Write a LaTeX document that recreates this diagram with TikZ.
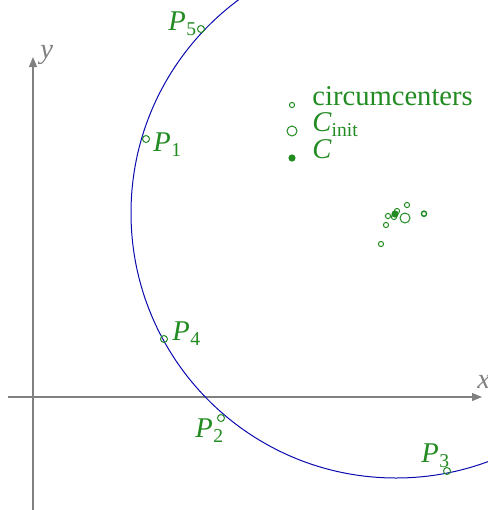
\documentclass[tikz,border=0pt]{standalone}
\usepackage{fontspec}
\setmainfont{Liberation Serif}
\usetikzlibrary{arrows.meta}
\definecolor{grn}{RGB}{34,139,34}
\definecolor{blu}{RGB}{10,10,175}
\definecolor{axg}{RGB}{128,128,128}
\newcommand\subtx[1]{\raisebox{-0.42ex}{\fontsize{9.8}{11}\selectfont #1}}
\newcommand\Plab[1]{\textit{P}\kern0.3pt\subtx{#1}}
\begin{document}
\begin{tikzpicture}[x=0.5pt,y=-0.5pt,
  font=\fontsize{14.3}{17}\selectfont,
  ptc/.style={circle,draw=grn,line width=0.5pt,inner sep=0pt,minimum size=3.5pt},
  smc/.style={circle,draw=grn,line width=0.5pt,inner sep=0pt,minimum size=2.6pt},
  bigc/.style={circle,draw=grn,line width=0.5pt,inner sep=0pt,minimum size=5pt},
  filc/.style={circle,fill=grn,inner sep=0pt,minimum size=3.6pt},
  lab/.style={text=grn,anchor=base west,inner sep=0pt},
  axis/.style={axg,line width=0.55pt,-{Triangle[length=5pt,width=4pt]}}]
\useasboundingbox (0,0) rectangle (488,510);
\clip (0,0) rectangle (488,510);
% axes
\coordinate (xs) at (8,397);
\coordinate (xe) at (482,397);
\coordinate (ys) at (33,512);
\coordinate (ye) at (33,57);
\draw[axis] (xs) -- (xe);
\draw[axis] (ys) -- (ye);
\node[lab,text=axg] (xl) at (477,388) {\textit{x}};
\node[lab,text=axg] (yl) at (40,58) {\textit{y}};
% circle
\coordinate (cen) at (396,213);
\draw[blu,line width=0.5pt] (cen) circle[radius=132.5pt];
% points
\node[ptc] (p1) at (146,139) {};
\node[ptc] (p2) at (221,418) {};
\node[ptc] (p3) at (447,471) {};
\node[ptc] (p4) at (164,339) {};
\node[ptc] (p5) at (201,29) {};
\node[lab] (l1) at (153,151) {\Plab{1}};
\node[lab] (l2) at (195,437) {\Plab{2}};
\node[lab] (l3) at (421,462) {\Plab{3}};
\node[lab] (l4) at (172,340) {\Plab{4}};
\node[lab] (l5) at (168,30) {\Plab{5}};
% cluster
\node[smc] (c1) at (407,205) {};
\node[smc] (c2) at (397,211) {};
\node[smc] (c3) at (388,216) {};
\node[smc] (c4) at (394,217) {};
\node[smc] (c5) at (424,214) {};
\node[smc] (c6) at (424,213.5) {};
\node[smc] (c7) at (386,225) {};
\node[smc] (c8) at (381,244) {};
\node[bigc] (ci) at (405,218) {};
\node[filc] (cc) at (395,214) {};
% legend
\node[smc] (g1) at (292,105) {};
\node[bigc] (g2) at (292,131) {};
\node[filc] (g3) at (292,158) {};
\node[lab] (t1) at (312,105) {circumcenters};
\node[lab] (t2) at (312,131) {\textit{C}\subtx{init}};
\node[lab] (t3) at (312,158) {\textit{C}};
\end{tikzpicture}
\end{document}
